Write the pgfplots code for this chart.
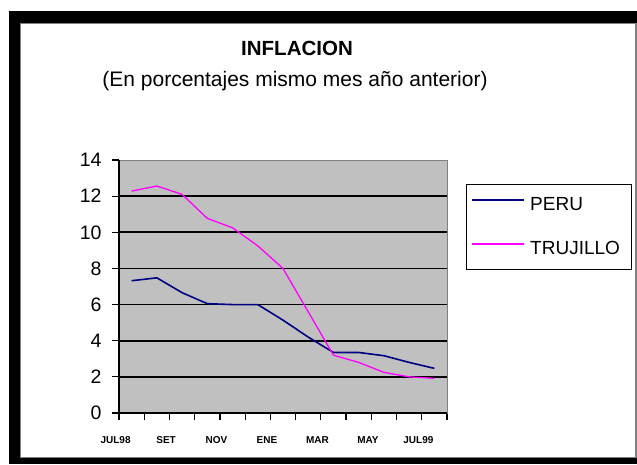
\documentclass[border=0pt]{standalone}
\usepackage{fontspec}
\setmainfont{Liberation Sans}
\usepackage{pgfplots}
\pgfplotsset{compat=1.18}
\definecolor{plotgray}{RGB}{192,192,192}
\definecolor{peru}{RGB}{0,0,128}
\definecolor{truj}{RGB}{255,0,255}
\definecolor{framegray}{RGB}{128,128,128}
\begin{document}
\begin{tikzpicture}[x=1pt,y=1pt]
\path[use as bounding box] (0,0) rectangle (637,-464);
\fill[white] (0,0) rectangle (637,-464);
\fill[black] (9,-11) rectangle (637,-464);
\fill[white] (20,-23) rectangle (635,-458);
\draw[framegray, line width=1pt] (20.5,-457.5) -- (20.5,-23.5) -- (635,-23.5);
\draw[framegray, line width=1.5pt] (20,-457.5) -- (636,-457.5) -- (636,-23);
\node[font=\bfseries\fontsize{20.5}{24}\selectfont] at (297,-48) {INFLACION};
\node[font=\fontsize{21}{24}\selectfont] at (295,-81) {(En porcentajes mismo mes año anterior)};
\begin{axis}[
  at={(119pt,-413pt)}, anchor=south west, scale only axis,
  width=328pt, height=253pt,
  xmin=-0.5, xmax=12.5, ymin=0, ymax=14,
  axis background/.style={fill=plotgray},
  axis line style={framegray, line width=1pt},
  tick align=outside, tick pos=left,
  major tick length=7pt,
  tick style={black, line width=1.2pt},
  xtick={-0.5,0.5,1.5,2.5,3.5,4.5,5.5,6.5,7.5,8.5,9.5,10.5,11.5,12.5},
  xticklabels={},
  ytick={0,2,4,6,8,10,12,14},
  /pgf/number format/assume math mode=true,
  yticklabel style={font=\fontsize{19.5}{22}\selectfont, xshift=-7pt},
  extra x ticks={0,2,4,6,8,10,12},
  extra x tick labels={JUL98,SET,NOV,ENE,MAR,MAY,JUL99},
  extra x tick style={major tick length=0pt, tick label style={font=\bfseries\fontsize{10}{11}\selectfont, xshift=-16pt, yshift=-20pt}},
  extra y ticks={0,2,4,6,8,10,12},
  extra y tick labels={},
  extra y tick style={ymajorgrids=true, major tick length=0pt},
  grid style={black, line width=1.6pt},
  legend style={at={(1.058,0.905)}, anchor=north west, draw=black, line width=1.2pt, fill=white,
    font=\fontsize{19}{22}\selectfont, inner xsep=5pt, inner ysep=12pt, row sep=27pt, column sep=5pt,
    nodes={inner sep=0pt, text height=14pt, text depth=3pt},
    /tikz/every even column/.append style={text width=96pt}},
  legend cell align=left,
  legend image code/.code={\draw[#1] (0pt,5pt) -- (52pt,5pt);},
  after end axis/.code={\draw[black, line width=1.5pt] (rel axis cs:0,0) -- (rel axis cs:0,1);},
]
\addplot[peru, line width=1.6pt] coordinates {
 (0,7.32) (1,7.48) (2,6.66) (3,6.05) (4,6.0) (5,6.0) (6,5.14) (7,4.2) (8,3.35) (9,3.35) (10,3.17) (11,2.8) (12,2.47)};
\addplot[truj, line width=1.3pt] coordinates {
 (0,12.28) (1,12.56) (2,12.1) (3,10.77) (4,10.25) (5,9.25) (6,8.0) (7,5.6) (8,3.2) (9,2.8) (10,2.25) (11,2.0) (12,1.92)};
\legend{PERU,TRUJILLO}
\end{axis}
\end{tikzpicture}
\end{document}
